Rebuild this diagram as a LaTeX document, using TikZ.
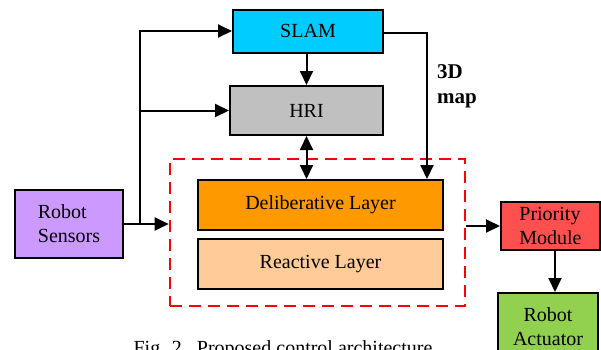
\documentclass[tikz,border=0pt]{standalone}
\usepackage{fontspec}
\setmainfont{Liberation Serif}
\usetikzlibrary{arrows.meta}
\definecolor{slamblue}{HTML}{00CCFF}
\definecolor{hrigray}{HTML}{C0C0C0}
\definecolor{delorange}{HTML}{FF9900}
\definecolor{reactpeach}{HTML}{FFCC99}
\definecolor{sensviolet}{HTML}{CC99FF}
\definecolor{priored}{HTML}{FF5050}
\definecolor{actgreen}{HTML}{92D050}
\begin{document}
\begin{tikzpicture}[x=1pt,y=-1pt,>={Triangle[length=14pt,width=13pt]},
	every node/.style={font=\fontsize{20}{24}\selectfont},
	blk/.style={draw,line width=2pt,inner sep=0pt},
	conn/.style={line width=2pt}]
	\useasboundingbox (0,0) rectangle (601,349);
	% blocks
	\node[blk,fill=slamblue,minimum width=150pt,minimum height=43pt] (slam) at (308,31) {SLAM};
	\node[blk,fill=hrigray,minimum width=153pt,minimum height=49pt] (hri) at (306.5,110.5) {HRI};
	\node[draw=red,dashed,dash pattern=on 12pt off 7pt,line width=2.6pt,minimum width=295pt,minimum height=147pt] (ctrl) at (317.5,232.5) {};
	\node[blk,fill=delorange,minimum width=245pt,minimum height=50pt] (delib) at (320.5,205) {Deliberative Layer};
	\node[blk,fill=reactpeach,minimum width=245pt,minimum height=50pt] (react) at (320.5,264) {Reactive Layer};
	\node[blk,fill=sensviolet,minimum width=108pt,minimum height=68pt,align=left] (sens) at (69,224) {Robot\\Sensors};
	\node[blk,fill=priored,minimum width=99pt,minimum height=48pt,align=left] (prio) at (550.5,226) {Priority\\Module};
	\node[blk,fill=actgreen,minimum width=100pt,minimum height=68pt,align=center] (act) at (548,327) {Robot\\Actuator};
	% connectors
	\coordinate (split) at (140,224);
	\coordinate (mapc) at (427,33);
	\draw[conn,->] (sens.east) -- (sens.east -| ctrl.west);
	\draw[conn,->] (split) |- (slam.west);
	\draw[conn,->] (split |- hri.west) -- (hri.west);
	\draw[conn,->] (hri.north |- slam.south) -- (hri.north);
	\draw[conn,<->] (hri.south) -- (hri.south |- delib.north);
	\draw[conn,->] (slam.east |- mapc) -- (mapc) -- (mapc |- delib.north);
	\node[font=\fontsize{21}{25}\selectfont\bfseries,align=left,anchor=north west,inner sep=0pt] (maplbl) at (437,64) {3D\\map};
	\draw[conn,->] (ctrl.east |- prio.west) -- (prio.west);
	\draw[conn,->] ([xshift=4.5pt]prio.south) -- ([xshift=4.5pt]prio.south |- act.north);
	\node[anchor=base] (cap) at (283,354) {Fig. 2.\ \ Proposed control architecture};
\end{tikzpicture}
\end{document}
